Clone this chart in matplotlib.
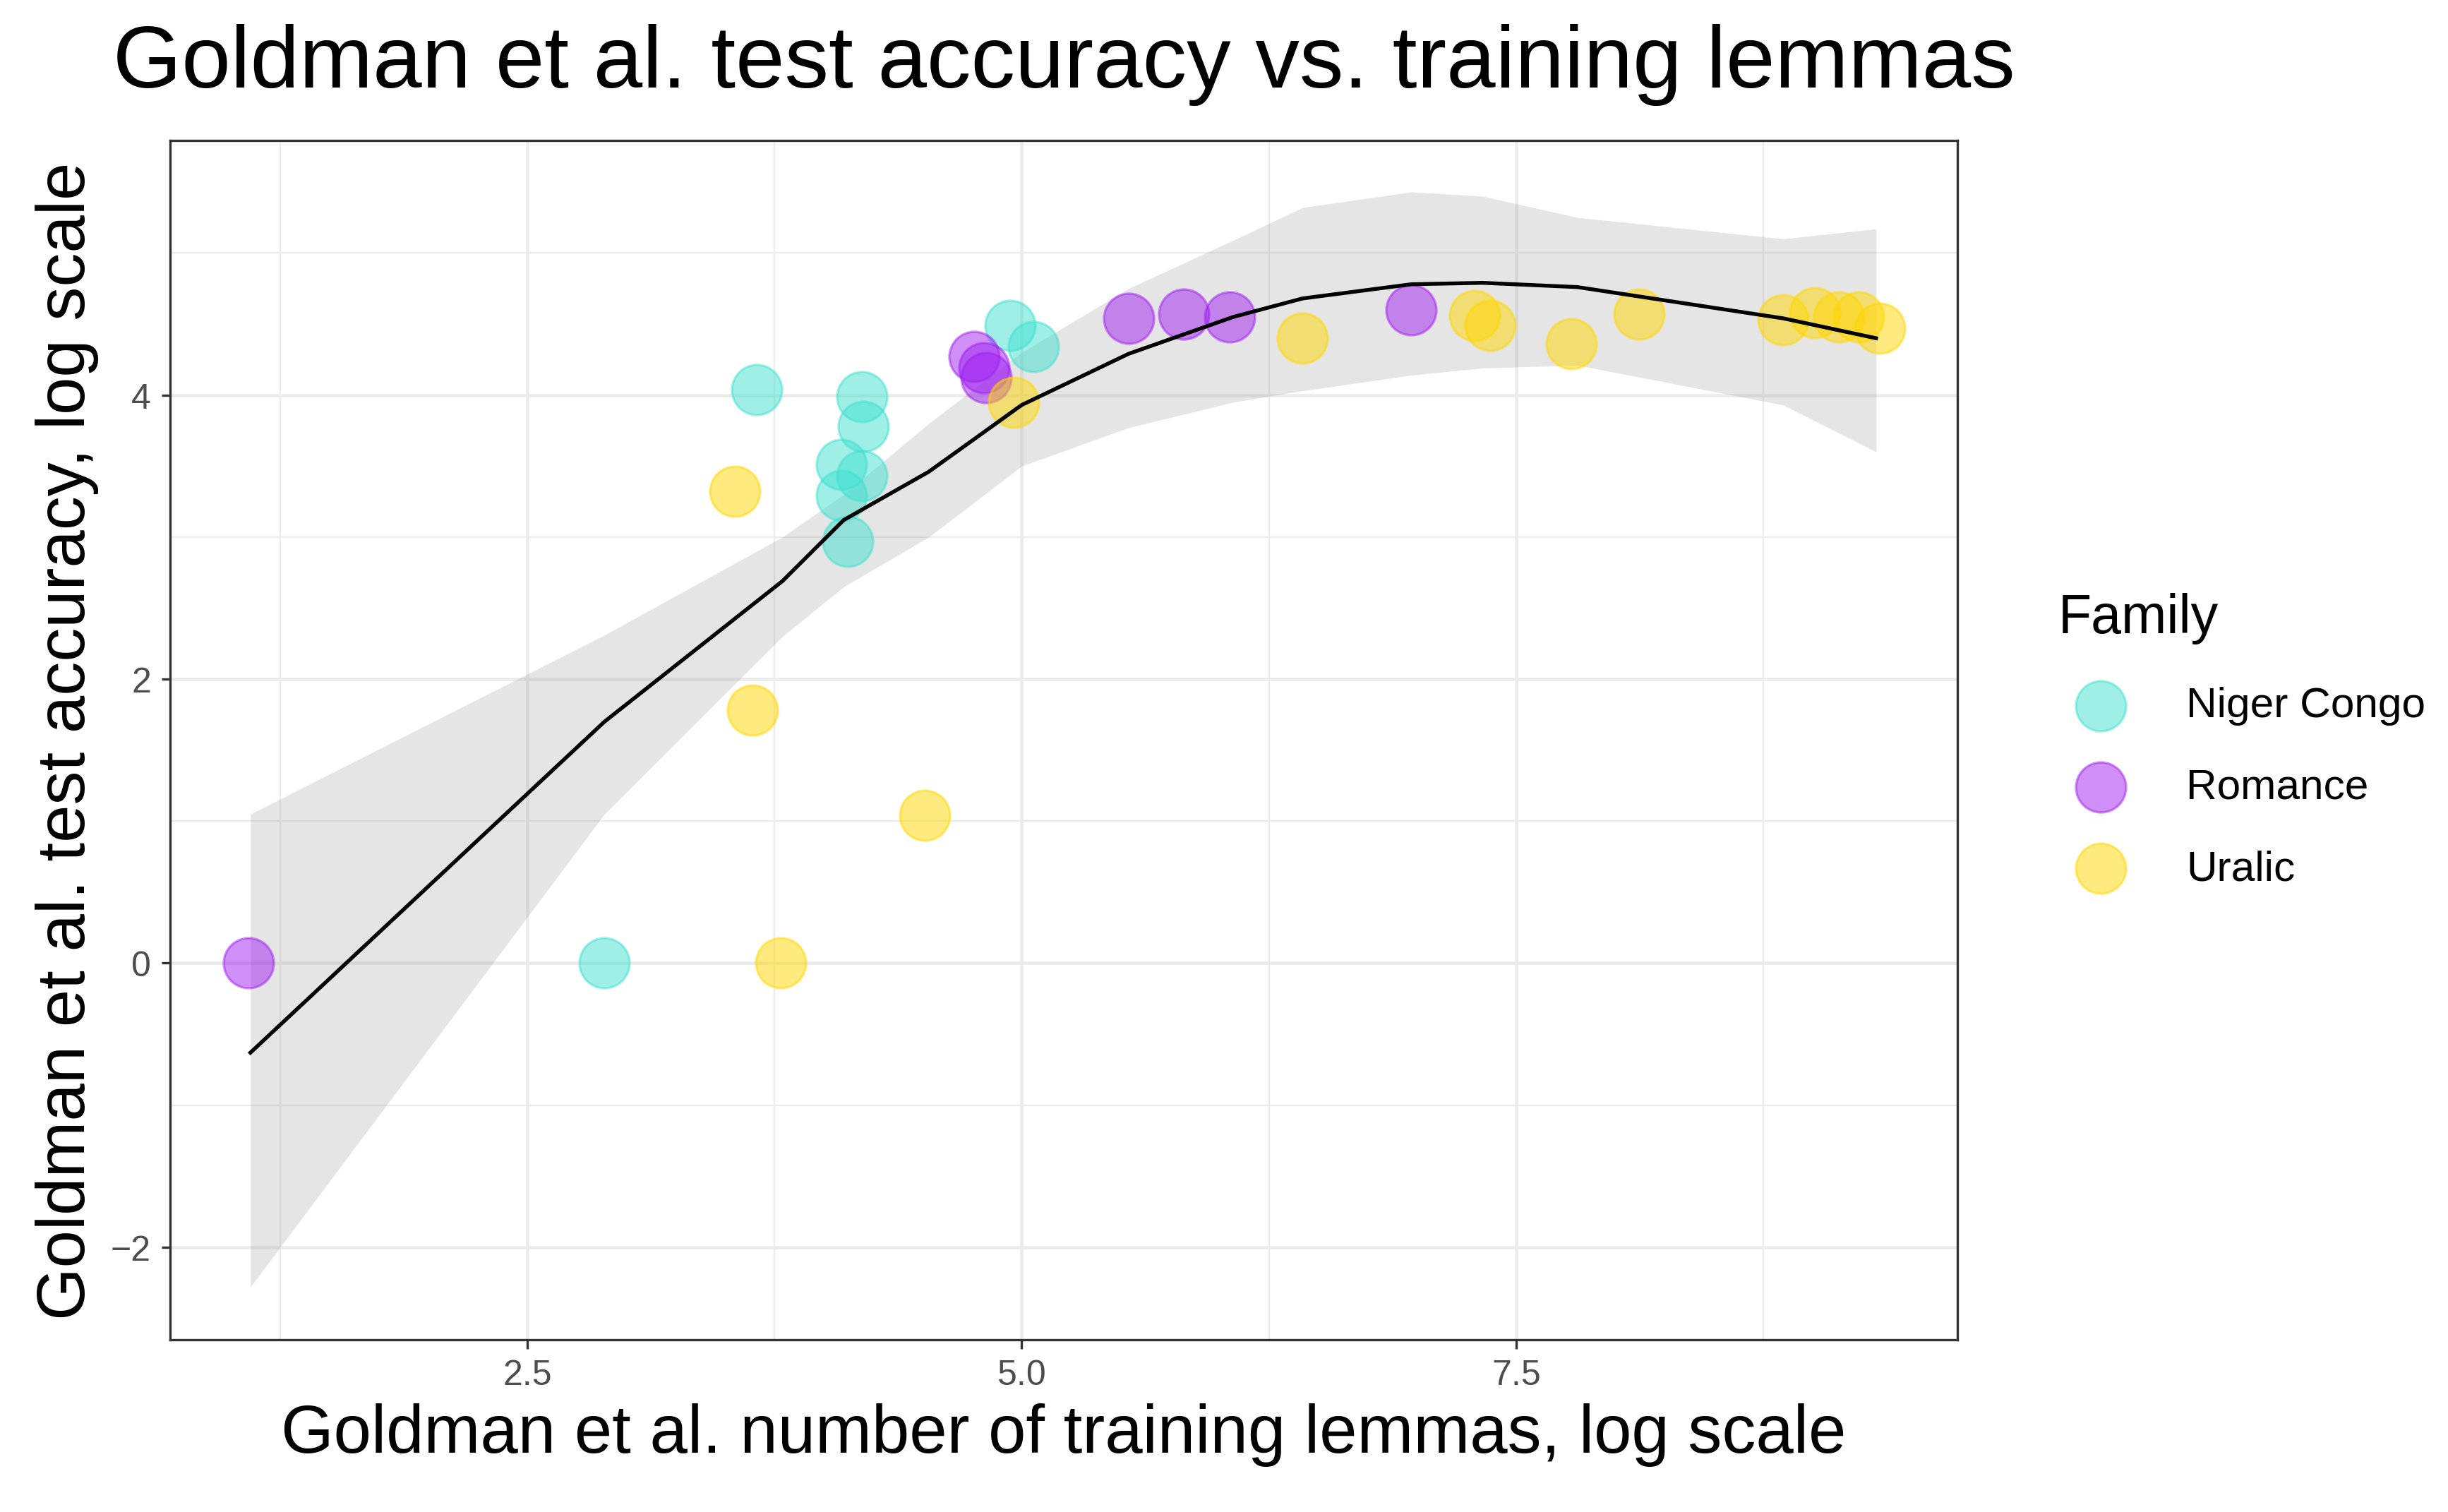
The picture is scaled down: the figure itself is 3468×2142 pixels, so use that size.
import matplotlib
matplotlib.use("Agg")
import matplotlib.pyplot as plt
from matplotlib.ticker import FixedLocator
plt.rcParams['font.family'] = ['Liberation Sans', 'DejaVu Sans']

nc_x = [3.66, 4.19, 4.20, 4.09, 4.19, 4.09, 4.12, 4.94, 5.06, 2.89]
nc_y = [4.04, 3.99, 3.78, 3.51, 3.43, 3.29, 2.97, 4.49, 4.34, 0.0]
ro_x = [1.09, 4.76, 4.81, 4.82, 5.54, 5.82, 6.05, 6.97]
ro_y = [0.0, 4.27, 4.19, 4.12, 4.54, 4.57, 4.55, 4.60]
ur_x = [3.55, 3.64, 4.51, 3.78, 4.96, 6.42, 7.29, 7.37, 7.78, 8.12, 8.85, 9.01, 9.13, 9.23, 9.34]
ur_y = [3.32, 1.78, 1.04, 0.0, 3.95, 4.40, 4.56, 4.49, 4.36, 4.57, 4.53, 4.58, 4.55, 4.55, 4.47]

fit_x = [1.10, 2.89, 3.79, 4.10, 4.53, 5.00, 5.54, 6.07, 6.42, 6.97, 7.33, 7.81, 8.85, 9.32]
fit_y = [-0.63, 1.70, 2.69, 3.12, 3.46, 3.93, 4.29, 4.55, 4.68, 4.78, 4.79, 4.76, 4.54, 4.40]
up_y  = [1.05, 2.31, 3.00, 3.30, 3.80, 4.30, 4.75, 5.09, 5.32, 5.43, 5.40, 5.25, 5.10, 5.17]
lo_y  = [-2.28, 1.05, 2.30, 2.65, 3.00, 3.50, 3.77, 3.95, 4.03, 4.14, 4.19, 4.21, 3.93, 3.60]

fig = plt.figure(figsize=(11.56, 7.143), dpi=300)
ax = fig.add_axes([0.0695, 0.114, 0.730, 0.7925])
ax.set_xlim(0.694, 9.73)
ax.set_ylim(-2.65, 5.79)
ax.xaxis.set_major_locator(FixedLocator([2.5, 5.0, 7.5]))
ax.xaxis.set_minor_locator(FixedLocator([1.25, 3.75, 6.25, 8.75]))
ax.yaxis.set_major_locator(FixedLocator([-2, 0, 2, 4]))
ax.yaxis.set_minor_locator(FixedLocator([-1, 1, 3, 5]))
ax.set_xticklabels(['2.5', '5.0', '7.5'])
ax.grid(which='major', color='#ebebeb', lw=1.1)
ax.grid(which='minor', color='#ebebeb', lw=0.55)
ax.set_axisbelow(True)
ax.tick_params(which='major', length=3, color='#333333', labelsize=12, labelcolor='#4d4d4d')
ax.tick_params(which='minor', length=0)
for s in ax.spines.values():
    s.set_color('#333333'); s.set_linewidth(0.8)

ax.fill_between(fit_x, lo_y, up_y, color='#999999', alpha=0.25, lw=0, zorder=1)
ax.scatter(nc_x, nc_y, s=290, color='#40E0D0', alpha=0.5, lw=0.8, label='Niger Congo', zorder=2)
ax.scatter(ro_x, ro_y, s=290, color='#A020F0', alpha=0.5, lw=0.8, label='Romance', zorder=2)
ax.scatter(ur_x, ur_y, s=290, color='#FFD700', alpha=0.5, lw=0.8, label='Uralic', zorder=2)
ax.plot(fit_x, fit_y, color='black', lw=1.3, zorder=3)

ax.set_xlabel('Goldman et al. number of training lemmas, log scale', fontsize=23)
ax.set_ylabel('Goldman et al. test accuracy, log scale', fontsize=23)
fig.text(0.046, 0.957, 'Goldman et al. test accuracy vs. training lemmas', fontsize=30, va='center')
leg = ax.legend(title='Family', loc='center left', bbox_to_anchor=(1.035, 0.5), frameon=False,
                fontsize=14.5, title_fontsize=18.5, labelspacing=1.0, handletextpad=1.0)
leg._legend_box.align = 'left'
fig.savefig('out.png', dpi=300)
